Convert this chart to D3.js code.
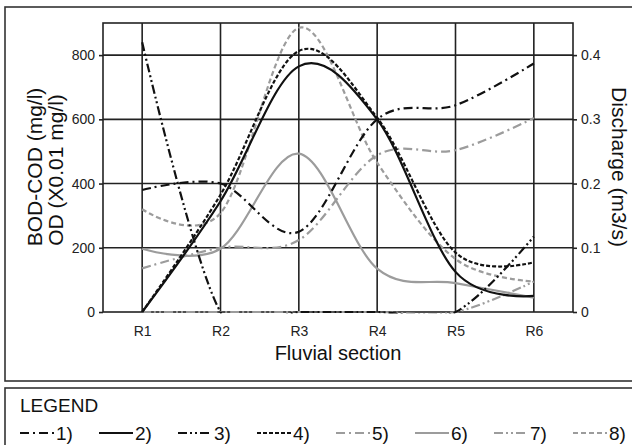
<!DOCTYPE html>
<html>
<head>
<meta charset="utf-8">
<script src="https://cdn.jsdelivr.net/npm/d3@7"></script>
<style>
  body { margin: 0; background: #fff; }
  svg { display: block; font-family: "Liberation Sans", Arial, sans-serif; }
</style>
</head>
<body>
<svg id="chart" width="632" height="445"></svg>
<script>
// Fluvial sections on the x axis
const sections = ["R1", "R2", "R3", "R4", "R5", "R6"];

// Series (left axis mg/l, except the discharge series in m3/s)
const s1 = [0.19, 0.2, 0.125, 0.3, 0.322, 0.387];   // discharge (right axis)
const s2 = [0, 345, 765, 600, 125, 50];
const s3 = [840, 0, 0, 0, 0, 235];
const s4 = [0, 365, 813, 605, 185, 155];
const s5 = [0.068, 0.1, 0.112, 0.244, 0.252, 0.302]; // discharge (right axis)
const s6 = [197, 197, 493, 135, 90, 45];
const s7 = [0, 0, 0, 0, 0, 95];
const s8 = [320, 308, 885, 465, 165, 95];

const leftTicks = [0, 200, 400, 600, 800];
const rightTicks = [0, 0.1, 0.2, 0.3, 0.4];
const legendLabels = ["1)", "2)", "3)", "4)", "5)", "6)", "7)", "8)"];

const black = "#111", grey = "#9c9c9c";

// Line styles per series (same order as legend)
const series = [
    { name: "1)", values: s1, axis: "right", color: black, dash: "9,4,2,4" },
    { name: "2)", values: s2, axis: "left", color: black, dash: null },
    { name: "3)", values: s3, axis: "left", color: black, dash: "9,3,2,3,2,3" },
    { name: "4)", values: s4, axis: "left", color: black, dash: "4,2" },
    { name: "5)", values: s5, axis: "right", color: grey, dash: "9,4,2,4" },
    { name: "6)", values: s6, axis: "left", color: grey, dash: null },
    { name: "7)", values: s7, axis: "left", color: grey, dash: "9,3,2,3,2,3" },
    { name: "8)", values: s8, axis: "left", color: grey, dash: "5,3" }
];

const plot = { left: 103, right: 573, top: 23, bottom: 312 };

const svg = d3.select("#chart");

// Outer frames
svg.append("rect").attr("x", 5).attr("y", 7).attr("width", 660).attr("height", 374)
    .attr("fill", "none").attr("stroke", "#333").attr("stroke-width", 1.6);
svg.append("rect").attr("x", 5).attr("y", 388).attr("width", 660).attr("height", 100)
    .attr("fill", "none").attr("stroke", "#333").attr("stroke-width", 1.6);

const x = d3.scalePoint().domain(sections).range([plot.left, plot.right]).padding(0.5);
const yLeft = d3.scaleLinear().domain([0, 900]).range([plot.bottom, plot.top]);
const yRight = d3.scaleLinear().domain([0, 0.45]).range([plot.bottom, plot.top]);

// Grid
const grid = svg.append("g").attr("stroke", "#222").attr("stroke-width", 1.6);
grid.selectAll(".vg").data(sections).enter().append("line")
    .attr("x1", d => x(d)).attr("x2", d => x(d))
    .attr("y1", plot.top).attr("y2", plot.bottom);
grid.selectAll(".hg").data(leftTicks.filter(d => d > 0)).enter().append("line")
    .attr("x1", plot.left).attr("x2", plot.right)
    .attr("y1", d => yLeft(d)).attr("y2", d => yLeft(d));
svg.append("rect").attr("x", plot.left).attr("y", plot.top)
    .attr("width", plot.right - plot.left).attr("height", plot.bottom - plot.top)
    .attr("fill", "none").attr("stroke", "#222").attr("stroke-width", 1.6);

// Axes
const axL = svg.append("g").attr("transform", "translate(" + plot.left + ",0)")
    .call(d3.axisLeft(yLeft).tickValues(leftTicks).tickSize(4).tickPadding(4));
const axR = svg.append("g").attr("transform", "translate(" + plot.right + ",0)")
    .call(d3.axisRight(yRight).tickValues(rightTicks).tickSize(4).tickPadding(4)
        .tickFormat(d => d === 0 ? "0" : d3.format(".1f")(d)));
const axB = svg.append("g").attr("transform", "translate(0," + plot.bottom + ")")
    .call(d3.axisBottom(x).tickSize(0).tickPadding(14));
[axL, axR, axB].forEach(a => {
    a.select(".domain").remove();
    a.selectAll("line").attr("stroke", "#222").attr("stroke-width", 1.6);
    a.selectAll("text").attr("font-size", 14).attr("fill", "#222")
        .attr("font-family", "Liberation Sans, Arial, sans-serif");
});

// Axis titles
svg.append("text").attr("x", 338).attr("y", 360).attr("text-anchor", "middle")
    .attr("font-size", 20).attr("fill", "#111").text("Fluvial section");
svg.append("text").attr("transform", "translate(42,167) rotate(-90)")
    .attr("text-anchor", "middle").attr("font-size", 21).attr("fill", "#111")
    .text("BOD-COD (mg/l)");
svg.append("text").attr("transform", "translate(63,170) rotate(-90)")
    .attr("text-anchor", "middle").attr("font-size", 21).attr("fill", "#111")
    .text("OD (X0.01 mg/l)");
svg.append("text").attr("transform", "translate(612,167) rotate(90)")
    .attr("text-anchor", "middle").attr("font-size", 21).attr("fill", "#111")
    .text("Discharge (m3/s)");

// Lines, clipped to the plot area
svg.append("clipPath").attr("id", "clip").append("rect")
    .attr("x", plot.left).attr("y", plot.top)
    .attr("width", plot.right - plot.left).attr("height", plot.bottom - plot.top + 1.5);

const lines = svg.append("g").attr("clip-path", "url(#clip)");
const drawOrder = [7, 6, 5, 4, 3, 2, 1, 0];
drawOrder.forEach(i => {
    const s = series[i];
    const yScale = s.axis === "right" ? yRight : yLeft;
    const line = d3.line()
        .x((d, j) => x(sections[j]))
        .y(d => yScale(d))
        .curve(d3.curveCardinal.tension(0));
    lines.append("path")
        .datum(s.values)
        .attr("d", line)
        .attr("fill", "none")
        .attr("stroke", s.color)
        .attr("stroke-width", 2.2)
        .attr("stroke-dasharray", s.dash);
});

// Legend
svg.append("text").attr("x", 20).attr("y", 412).attr("font-size", 19).attr("fill", "#111").text("LEGEND");
const leg = svg.selectAll(".leg").data(series).enter().append("g")
    .attr("transform", (d, i) => "translate(" + (20 + i * 79) + ",433)");
leg.append("line").attr("x1", 0).attr("x2", 34).attr("y1", 0).attr("y2", 0)
    .attr("stroke", d => d.color).attr("stroke-width", 2.2)
    .attr("stroke-dasharray", d => d.dash);
leg.append("text").attr("x", 36).attr("y", 7).attr("font-size", 19).attr("fill", "#111")
    .text((d, i) => legendLabels[i]);
</script>
</body>
</html>
